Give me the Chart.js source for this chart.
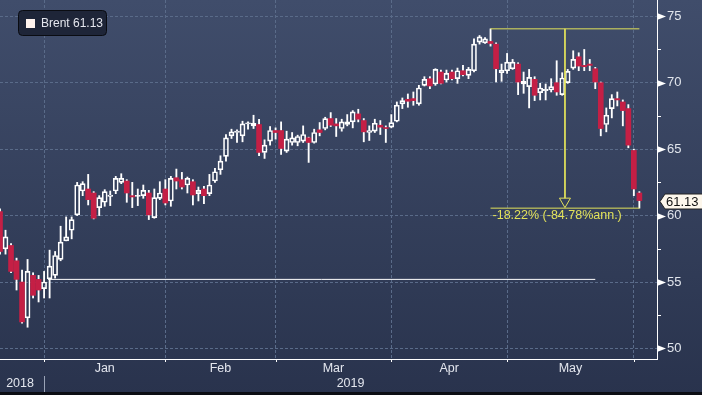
<!DOCTYPE html>
<html>
<head>
<meta charset="utf-8">
<script src="https://cdn.jsdelivr.net/npm/chart.js@4/dist/chart.umd.min.js"></script>
<style>
  html, body { margin: 0; padding: 0; background: #2b3550; }
  canvas { display: block; }
</style>
</head>
<body>
<canvas id="chart" width="702" height="395"></canvas>
<script>
// Brent daily candles, mid Dec 2018 -> early Jun 2019 (index = trading day)
const seriesName = 'Brent';

const open = [
  60.3, 57.5, 57.75, 56.6, 55.0, 52.3, 55.5, 55.2, 54.5, 55.25,
  55.5, 56.7, 58.1, 58.9, 60.05, 61.85, 62.0, 61.7, 60.6, 61.0,
  61.45, 61.85, 62.5, 62.6, 61.5, 61.45, 61.5, 61.7, 59.85, 61.3,
  62.0, 61.1, 62.85, 62.7, 62.3, 62.55, 61.65, 62.0, 61.65, 62.6,
  63.45, 64.45, 66.0, 66.25, 66.0, 66.9, 66.75, 66.85, 64.75, 65.6,
  66.4, 66.4, 64.85, 65.5, 65.5, 65.6, 65.85, 65.5, 66.45, 66.55,
  67.3, 66.9, 66.55, 66.85, 67.05, 67.65, 67.15, 66.25, 66.35, 66.8,
  66.6, 66.65, 67.1, 68.4, 68.75, 68.8, 68.4, 69.8, 70.3, 69.9,
  70.8, 70.2, 70.8, 70.3, 70.9, 70.55, 70.9, 73.05, 73.0, 73.1,
  72.9, 70.75, 70.9, 71.05, 71.4, 69.9, 69.7, 70.25, 69.25, 69.4,
  69.45, 70.0, 69.1, 70.0, 71.1, 71.95, 71.3, 71.4, 71.05, 70.0,
  66.85, 68.05, 68.8, 68.55, 68.05, 64.9, 61.7
];
const high = [
  60.5, 58.9, 57.9, 56.8, 55.9, 56.7, 55.7, 55.5, 55.8, 57.4,
  57.3, 59.2, 59.9, 59.9, 62.5, 62.55, 63.1, 61.8, 61.5, 61.95,
  61.85, 62.95, 63.15, 62.7, 62.5, 62.0, 62.3, 61.9, 62.0, 62.55,
  62.7, 62.95, 63.5, 63.25, 62.9, 62.7, 62.15, 62.2, 63.1, 63.55,
  64.5, 66.1, 66.5, 66.45, 67.1, 67.05, 67.55, 67.25, 65.7, 66.7,
  66.6, 67.05, 66.35, 66.25, 66.05, 66.75, 65.9, 66.5, 67.0, 67.4,
  67.75, 67.3, 67.25, 67.6, 67.9, 68.0, 67.3, 66.75, 67.25, 67.15,
  66.75, 67.6, 68.55, 68.85, 69.15, 69.3, 69.8, 70.45, 70.45, 71.05,
  70.95, 70.95, 70.95, 71.1, 71.3, 71.15, 73.3, 73.55, 73.4, 74.05,
  73.0, 71.4, 72.2, 71.75, 71.5, 70.8, 71.0, 70.45, 69.95, 69.9,
  70.3, 71.65, 70.75, 71.0, 72.4, 72.25, 72.5, 71.75, 71.15, 70.05,
  68.1, 69.1, 69.3, 68.7, 68.35, 65.0, 61.8
];
const low = [
  57.1, 57.1, 55.7, 54.4, 51.9, 51.6, 53.8, 53.5, 53.8, 53.8,
  55.3, 56.6, 58.1, 58.25, 60.0, 61.5, 60.8, 59.75, 60.0, 60.7,
  60.75, 61.65, 62.4, 61.0, 60.6, 60.75, 61.3, 59.7, 59.8, 61.2,
  60.8, 60.7, 62.0, 62.0, 61.7, 60.8, 61.1, 60.9, 61.5, 62.5,
  63.1, 64.1, 65.8, 65.5, 65.55, 66.5, 66.55, 64.5, 64.3, 65.3,
  65.75, 64.6, 64.75, 65.3, 65.25, 65.5, 64.0, 65.45, 66.0, 66.45,
  66.7, 65.95, 66.35, 66.75, 66.6, 67.05, 65.55, 65.65, 66.25, 66.1,
  65.5, 66.6, 67.05, 68.05, 68.15, 68.3, 68.3, 69.75, 69.55, 69.8,
  69.9, 70.05, 70.2, 69.95, 70.5, 70.3, 70.8, 72.9, 72.95, 72.75,
  70.05, 70.1, 70.7, 71.0, 69.1, 69.2, 68.1, 68.65, 68.7, 68.7,
  69.3, 69.05, 69.05, 69.95, 71.0, 70.9, 70.9, 70.9, 69.55, 66.0,
  66.3, 67.35, 68.25, 66.75, 65.1, 61.5, 60.56
];
const close = [
  57.3, 58.4, 55.8, 55.2, 52.0, 55.8, 54.0, 54.4, 55.0, 56.2,
  57.0, 58.0, 58.4, 59.7, 62.3, 62.4, 61.2, 59.8, 61.35, 61.8,
  61.55, 62.8, 62.8, 61.7, 61.4, 61.5, 61.9, 60.05, 61.35, 61.7,
  60.95, 62.8, 62.6, 62.15, 62.8, 61.55, 61.9, 61.5, 62.3, 63.3,
  64.1, 65.85, 66.3, 66.35, 66.9, 66.95, 66.95, 64.75, 65.3, 66.4,
  66.25, 65.05, 65.75, 65.85, 65.95, 66.1, 65.5, 66.25, 66.25, 67.3,
  66.8, 66.75, 67.05, 67.05, 67.8, 67.25, 66.3, 66.4, 66.95, 66.65,
  66.55, 67.0, 68.3, 68.65, 68.6, 68.65, 69.6, 70.25, 69.75, 71.0,
  69.95, 70.7, 70.3, 70.9, 70.6, 71.0, 72.9, 73.45, 73.3, 72.95,
  71.05, 70.95, 71.55, 71.55, 70.05, 70.1, 70.4, 69.05, 69.6, 69.5,
  69.7, 69.3, 70.35, 70.85, 71.75, 71.25, 71.2, 71.3, 70.05, 66.55,
  67.55, 68.8, 68.7, 67.9, 65.3, 62.0, 61.13
];

// month boundaries (index of first trading day) and labels
const monthStart = [8, 30, 50, 71, 92, 115];
const monthLabels = ['Jan', 'Feb', 'Mar', 'Apr', 'May'];
const yearLabels = ['2018', '2019'];
const yMajor = [50, 55, 60, 65, 70, 75];
const yMinor = [52.5, 57.5, 62.5, 67.5, 72.5];

// drawn annotations
const hLineLevel = 55.2;
const hLineFrom = 8.7;
const hLineTo = 108;
const measureFrom = 89;
const measureTo = 116;
const measureAt = 102.5;
const measureHigh = 74.05;
const measureLow = 60.56;
const measureText = '-18.22% (-84.78%ann.)';

const RED = '#c41f45';
const WHITE = '#ffffff';
const YELLOW = '#e2e25a';
const GRID = '#5a6b89';
const FONT = '"Liberation Sans", Arial, sans-serif';

const idx = open.map((_, i) => i);
const up = idx.map(i => close[i] >= open[i]);
const bodyLo = idx.map(i => Math.min(open[i], close[i]));
const bodyHi = idx.map(i => Math.max(open[i], close[i]));

const decor = {
  id: 'decor',
  beforeDraw(chart) {
    const { ctx, width, height } = chart;
    const g = ctx.createLinearGradient(0, 0, 0, height);
    g.addColorStop(0, '#404d6b');
    g.addColorStop(1, '#29334d');
    ctx.save();
    ctx.fillStyle = g;
    ctx.fillRect(0, 0, width, height);
    ctx.restore();
  },
  afterDraw(chart) {
    const { ctx, scales: { x, y }, chartArea: area, width } = chart;
    ctx.save();

    // right axis markers
    ctx.fillStyle = WHITE;
    yMajor.forEach(v => {
      const py = Math.round(y.getPixelForValue(v)) + 0.5;
      ctx.beginPath();
      ctx.moveTo(area.right, py - 3.5);
      ctx.lineTo(area.right + 9, py);
      ctx.lineTo(area.right, py + 3.5);
      ctx.closePath();
      ctx.fill();
    });
    ctx.strokeStyle = WHITE;
    ctx.lineWidth = 1;
    ctx.beginPath();
    yMinor.forEach(v => {
      const py = Math.round(y.getPixelForValue(v)) + 0.5;
      ctx.moveTo(area.right, py);
      ctx.lineTo(area.right + 4, py);
    });
    // bottom axis ticks
    monthStart.forEach(i => {
      const px = Math.round(x.getPixelForValue(i)) + 0.5;
      ctx.moveTo(px, area.bottom);
      ctx.lineTo(px, area.bottom + 3);
    });
    ctx.stroke();

    // month + year labels
    ctx.fillStyle = '#e3e6ee';
    ctx.font = '12.5px ' + FONT;
    ctx.textAlign = 'center';
    ctx.textBaseline = 'middle';
    monthLabels.forEach((m, k) => {
      const mid = (monthStart[k] + monthStart[k + 1]) / 2;
      ctx.fillText(m, x.getPixelForValue(mid), area.bottom + 10);
    });
    ctx.fillText(yearLabels[0], x.getPixelForValue(monthStart[0] / 2) - 2, area.bottom + 25);
    ctx.fillText(yearLabels[1], (x.getPixelForValue(monthStart[0]) + area.right) / 2, area.bottom + 25);
    const sx = Math.round(x.getPixelForValue(monthStart[0])) + 0.5;
    ctx.strokeStyle = '#9aa3b6';
    ctx.beginPath();
    ctx.moveTo(sx, area.bottom + 17);
    ctx.lineTo(sx, area.bottom + 33);
    ctx.stroke();

    // measure arrow head + label
    const ax = x.getPixelForValue(measureAt);
    const ay = y.getPixelForValue(measureLow);
    ctx.strokeStyle = YELLOW;
    ctx.beginPath();
    ctx.moveTo(ax - 5.5, ay - 10);
    ctx.lineTo(ax + 5.5, ay - 10);
    ctx.lineTo(ax, ay - 0.5);
    ctx.closePath();
    ctx.stroke();
    ctx.fillStyle = YELLOW;
    ctx.textAlign = 'left';
    ctx.textBaseline = 'top';
    ctx.font = '12.5px ' + FONT;
    ctx.fillText(measureText, x.getPixelForValue(measureFrom) + 2, ay + 1);

    // last price tag
    const last = close[close.length - 1];
    const ly = Math.round(y.getPixelForValue(last)) + 0.5;
    ctx.beginPath();
    ctx.moveTo(area.right + 3, ly);
    ctx.lineTo(area.right + 8, ly - 7.5);
    ctx.lineTo(width + 2, ly - 7.5);
    ctx.lineTo(width + 2, ly + 7.5);
    ctx.lineTo(area.right + 8, ly + 7.5);
    ctx.closePath();
    ctx.fillStyle = '#fdf7ec';
    ctx.fill();
    ctx.strokeStyle = '#222';
    ctx.stroke();
    ctx.fillStyle = '#111';
    ctx.font = '13px ' + FONT;
    ctx.textBaseline = 'middle';
    ctx.fillText(last.toFixed(2), area.right + 9, ly + 0.5);

    // legend box
    ctx.beginPath();
    ctx.roundRect(18.5, 10.5, 88, 25, 4);
    ctx.fillStyle = '#1e2538';
    ctx.fill();
    ctx.strokeStyle = '#0a0c12';
    ctx.stroke();
    ctx.fillStyle = '#fff3ee';
    ctx.fillRect(26, 19, 9, 9);
    ctx.fillStyle = '#e4e6ee';
    ctx.font = '12px ' + FONT;
    ctx.fillText(seriesName, 41, 24);
    ctx.fillText(last.toFixed(2), 73, 24);

    // bottom frame strip
    ctx.fillStyle = '#0c0e14';
    ctx.fillRect(0, 392, width, 3);
    ctx.restore();
  }
};

const barBase = { type: 'bar', grouped: false, borderSkipped: false };

new Chart(document.getElementById('chart'), {
  type: 'bar',
  data: {
    datasets: [
      {
        type: 'line', order: 0,
        data: [{ x: hLineFrom, y: hLineLevel }, { x: hLineTo, y: hLineLevel }],
        borderColor: WHITE, borderWidth: 1, pointRadius: 0
      },
      {
        type: 'line', order: 0,
        data: [{ x: measureFrom, y: measureHigh }, { x: measureTo, y: measureHigh }],
        borderColor: YELLOW, borderWidth: 1, pointRadius: 0
      },
      {
        type: 'line', order: 0,
        data: [{ x: measureFrom, y: measureLow }, { x: measureTo, y: measureLow }],
        borderColor: YELLOW, borderWidth: 1, pointRadius: 0
      },
      {
        type: 'line', order: 0,
        data: [{ x: measureAt, y: measureHigh }, { x: measureAt, y: measureLow + 0.75 }],
        borderColor: YELLOW, borderWidth: 1, pointRadius: 0
      },
      {
        ...barBase, order: 1,
        data: idx.map(i => ({ x: i, y: [bodyLo[i], bodyHi[i]] })),
        barThickness: 5, minBarLength: 1,
        backgroundColor: idx.map(i => up[i] ? 'rgba(0,0,0,0)' : RED),
        borderColor: idx.map(i => up[i] ? WHITE : RED),
        borderWidth: idx.map(i => up[i] ? 1 : 0)
      },
      {
        ...barBase, order: 2,
        data: idx.map(i => ({ x: i, y: [bodyHi[i], high[i]] })),
        barThickness: 1.2, backgroundColor: WHITE, borderWidth: 0
      },
      {
        ...barBase, order: 2,
        data: idx.map(i => ({ x: i, y: [low[i], bodyLo[i]] })),
        barThickness: 1.2, backgroundColor: WHITE, borderWidth: 0
      }
    ]
  },
  options: {
    responsive: false,
    animation: false,
    layout: { padding: 0 },
    plugins: { legend: { display: false }, tooltip: { enabled: false } },
    scales: {
      x: {
        type: 'linear', min: 0, max: 119.2, offset: false,
        afterBuildTicks: s => { s.ticks = monthStart.map(v => ({ value: v })); },
        afterFit: s => { s.height = 36; s.paddingLeft = 0; s.paddingRight = 0; },
        grid: { color: GRID, drawTicks: false, offset: false },
        border: { color: WHITE, width: 1, dash: [3, 2] },
        ticks: { display: false }
      },
      y: {
        position: 'right', min: 49.21, max: 76.22,
        afterBuildTicks: s => { s.ticks = yMajor.map(v => ({ value: v })); },
        afterFit: s => { s.width = 45; s.paddingTop = 0; s.paddingBottom = 0; },
        grid: { color: GRID, drawTicks: false },
        border: { color: WHITE, width: 1, dash: [3, 2] },
        ticks: {
          color: '#e1e5ec', padding: 10,
          font: { family: FONT, size: 13 },
          callback: v => v
        }
      }
    }
  },
  plugins: [decor]
});
</script>
</body>
</html>
